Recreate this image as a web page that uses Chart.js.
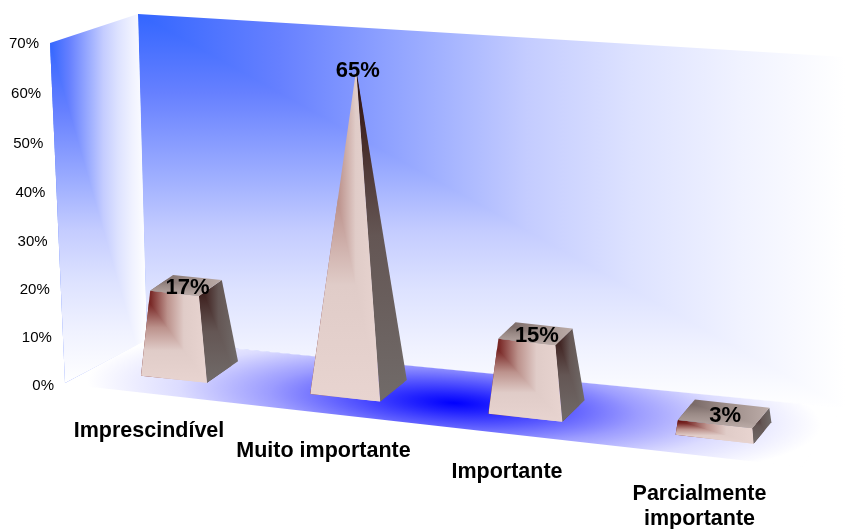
<!DOCTYPE html>
<html>
<head>
<meta charset="utf-8">
<style>
  html, body { margin: 0; padding: 0; background: #fff; }
  canvas { display: block; }
</style>
<script src="https://cdn.jsdelivr.net/npm/chart.js@4"></script>
</head>
<body>
<canvas id="grafico" width="845" height="529"></canvas>
<script>
var categorias = ['Imprescindível', 'Muito importante', 'Importante', ['Parcialmente', 'importante']];
var valores = [17, 65, 15, 3];
var eixoMin = 0;
var eixoMax = 70;
var eixoPasso = 10;

var fonte = '"Liberation Sans", Arial, sans-serif';

var coresAzul = [[0, '#3366ff'], [0.2, '#6680ff'], [0.42, '#a0b0ff'], [0.55, '#c4ccff'], [0.7, '#dde2ff'], [0.85, '#f0f2ff'], [1, '#ffffff']];
var coresFrente = [[0, '#600808'], [0.15, '#7a2a28'], [0.4, '#bc928c'], [0.65, '#e0ccc8'], [1, '#e8d4d0']];
var coresLado = [[0, '#2a0e0c'], [0.2, '#452a28'], [0.5, '#645654'], [1, '#716b69']];
var coresTopo = [[0, '#6a5a58'], [0.5, '#9a8a86'], [1, '#bcaca8']];

// fill where colour depends on max(u, v) measured from the top-left of the box
function gradienteCanto(ctx, pontos, caixa, cores) {
    var h = ctx.createLinearGradient(caixa.x0, 0, caixa.x1, 0);
    var v = ctx.createLinearGradient(0, caixa.y0, 0, caixa.y1);
    cores.forEach(function (c) {
        h.addColorStop(c[0], c[1]);
        v.addColorStop(c[0], c[1]);
    });
    ctx.save();
    caminho(ctx, pontos);
    ctx.clip();
    ctx.fillStyle = h;
    ctx.fillRect(0, 0, 845, 529);
    ctx.beginPath();
    ctx.moveTo(caixa.x0, caixa.y0);
    ctx.lineTo(caixa.x1, caixa.y1);
    ctx.lineTo(caixa.x0, caixa.y1);
    ctx.closePath();
    ctx.clip();
    ctx.fillStyle = v;
    ctx.fillRect(0, 0, 845, 529);
    ctx.restore();
}

function caminho(ctx, pontos) {
    ctx.beginPath();
    pontos.forEach(function (p, i) {
        if (i === 0) ctx.moveTo(p[0], p[1]); else ctx.lineTo(p[0], p[1]);
    });
    ctx.closePath();
}

function caixaDe(pontos) {
    var xs = pontos.map(function (p) { return p[0]; });
    var ys = pontos.map(function (p) { return p[1]; });
    return { x0: Math.min.apply(null, xs), x1: Math.max.apply(null, xs), y0: Math.min.apply(null, ys), y1: Math.max.apply(null, ys) };
}

// paredes e chao
function desenhaFundo(ctx) {
    var fundo = [[138, 14], [845, 57], [845, 408], [147, 340]];
    gradienteCanto(ctx, fundo, { x0: 138, x1: 845, y0: 14, y1: 408 }, coresAzul);

    var lateral = [[50, 43], [138, 14], [147, 340], [65, 383]];
    gradienteCanto(ctx, lateral, { x0: 50, x1: 147, y0: 43, y1: 383 }, coresAzul);

    var chao = [[65, 384], [147, 340], [842, 408], [802, 467]];
    ctx.save();
    ctx.fillStyle = '#ffffff';
    caminho(ctx, chao);
    ctx.fill();
    ctx.clip();
    ctx.transform(358, 37.75, 80, -67, 454, 403);
    var g = ctx.createRadialGradient(0, 0, 0, 0, 0, 1);
    g.addColorStop(0, '#0000ff');
    g.addColorStop(0.12, '#2222ff');
    g.addColorStop(0.3, '#5a5aff');
    g.addColorStop(0.5, '#9c9cff');
    g.addColorStop(0.75, '#dcdcff');
    g.addColorStop(1, '#ffffff');
    ctx.fillStyle = g;
    ctx.fillRect(-1.5, -1.5, 3, 3);
    ctx.restore();
}

// base of a category on the floor, from the x scale pixel
function baseDe(xPix, esc) {
    var s = (xPix - esc.getPixelForValue(0)) / (esc.getPixelForValue(1) - esc.getPixelForValue(0));
    return {
        s: s,
        x: 189.5 + 169 * s + 4.5 * s * (s - 1),
        y: 368.5 + 18.5 * s + 0.75 * s * (s - 1),
        lx: 66 + 4 * s,
        ly: 7 + 0.6 * s,
        px: 31 - 4.4 * s,
        py: -21.5
    };
}

function canto(c, b, k, a, d) {
    return [c[0] + k * (a * b.lx + d * b.px) / 2, c[1] + k * (a * b.ly + d * b.py) / 2];
}

function desenhaPiramide(ctx, xPix, valor, escX, escY) {
    var b = baseDe(xPix, escX);
    var altura = escY.getPixelForValue(eixoMin) - escY.getPixelForValue(valor);
    var k = 1 - valor / Math.max.apply(null, valores);
    var cb = [b.x, b.y];
    var ct = [b.x - 3.5 + 1.2 * b.s, b.y - altura];

    var bFE = canto(cb, b, 1, -1, -1), bFD = canto(cb, b, 1, 1, -1), bTD = canto(cb, b, 1, 1, 1);
    var tFE = canto(ct, b, k, -1, -1), tFD = canto(ct, b, k, 1, -1), tTD = canto(ct, b, k, 1, 1), tTE = canto(ct, b, k, -1, 1);

    var lado = [bFD, bTD, tTD, tFD];
    gradienteCanto(ctx, lado, caixaDe(lado), coresLado);
    var frente = [bFE, bFD, tFD, tFE];
    gradienteCanto(ctx, frente, caixaDe(frente), coresFrente);
    if (k > 0.01) {
        var topo = [tFE, tFD, tTD, tTE];
        gradienteCanto(ctx, topo, caixaDe(topo), coresTopo);
    }
    return { topo: ct, base: b };
}

var plugin3d = {
    id: 'plugin3d',
    beforeDatasetsDraw: function (chart) {
        var ctx = chart.ctx;
        var escX = chart.scales.x;
        var escY = chart.scales.y;
        desenhaFundo(ctx);

        // rotulos do eixo de valores
        ctx.save();
        ctx.font = '15px ' + fonte;
        ctx.fillStyle = '#000';
        ctx.textAlign = 'right';
        ctx.textBaseline = 'middle';
        escY.ticks.forEach(function (t) {
            var f = (t.value - eixoMin) / (eixoMax - eixoMin);
            var y = escY.getPixelForValue(t.value) + 2.6 * Math.sin(Math.PI * f);
            ctx.fillText(t.label, 54 - 15 * f, y + 1);
        });
        ctx.restore();

        var rotulos = [];
        valores.forEach(function (v, i) {
            rotulos.push(desenhaPiramide(ctx, escX.getPixelForValue(i), v, escX, escY));
        });

        ctx.save();
        ctx.fillStyle = '#000';
        ctx.textAlign = 'center';
        ctx.textBaseline = 'middle';
        ctx.font = 'bold 22px ' + fonte;
        rotulos.forEach(function (r, i) {
            ctx.fillText(valores[i] + '%', r.topo[0] + 1.5, r.topo[1] + 2);
        });
        ctx.font = 'bold 21.5px ' + fonte;
        categorias.forEach(function (c, i) {
            var b = rotulos[i].base;
            var linhas = Array.isArray(c) ? c : [c];
            linhas.forEach(function (l, j) {
                ctx.fillText(l, b.x - 40.5 + 5.5 * b.s, b.y + 63 + b.s + j * 25);
            });
        });
        ctx.restore();
    }
};

document.addEventListener('DOMContentLoaded', function () {
    new Chart(document.getElementById('grafico'), {
        type: 'bar',
        data: {
            labels: categorias,
            datasets: [{
                data: valores,
                backgroundColor: 'rgba(0, 0, 0, 0)',
                borderWidth: 0
            }]
        },
        options: {
            responsive: false,
            animation: false,
            layout: { padding: { left: 84, right: 41, top: 43, bottom: 144 } },
            scales: {
                x: { display: false },
                y: {
                    display: false,
                    min: eixoMin,
                    max: eixoMax,
                    ticks: {
                        stepSize: eixoPasso,
                        callback: function (v) { return v + '%'; }
                    }
                }
            },
            plugins: {
                legend: { display: false },
                tooltip: { enabled: false }
            }
        },
        plugins: [plugin3d]
    });
});
</script>
</body>
</html>
